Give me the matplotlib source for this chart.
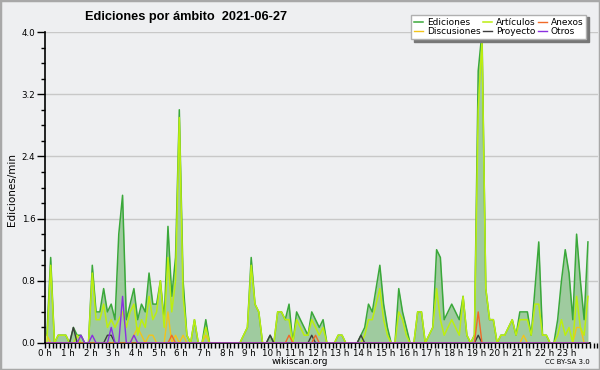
import numpy as np
import matplotlib
matplotlib.use("Agg")
import matplotlib.pyplot as plt
from matplotlib.patches import Rectangle
from matplotlib.ticker import MultipleLocator

# === Data: edits per minute, one value per 10-minute slot (6 per hour) ===
hours = [f"{h} h" for h in range(24)]

ediciones = [
    0.1, 1.1, 0, 0.1, 0.1, 0.1,
    0, 0.2, 0.1, 0.1, 0, 0,
    1.0, 0.4, 0.4, 0.7, 0.4, 0.5,
    0.3, 1.4, 1.9, 0.3, 0.5, 0.7,
    0.3, 0.5, 0.4, 0.9, 0.5, 0.5,
    0.8, 0.3, 1.5, 0.6, 1.1, 3.0,
    0.8, 0.1, 0, 0.3, 0, 0,
    0.3, 0, 0, 0, 0, 0,
    0, 0, 0, 0, 0.1, 0.2,
    1.1, 0.5, 0.4, 0, 0, 0.1,
    0, 0.4, 0.4, 0.3, 0.5, 0,
    0.4, 0.3, 0.2, 0.1, 0.4, 0.3,
    0.2, 0.3, 0, 0, 0, 0.1,
    0.1, 0, 0, 0, 0, 0.1,
    0.2, 0.5, 0.4, 0.7, 1.0, 0.5,
    0.2, 0, 0, 0.7, 0.4, 0.2,
    0, 0, 0.4, 0.4, 0, 0.1,
    0.2, 1.2, 1.1, 0.3, 0.4, 0.5,
    0.4, 0.3, 0.6, 0.1, 0, 0.1,
    3.5, 4.0, 0.7, 0.3, 0.3, 0,
    0.1, 0.1, 0.2, 0.3, 0.1, 0.4,
    0.4, 0.4, 0.1, 0.7, 1.3, 0.1,
    0.1, 0, 0, 0.3, 0.8, 1.2,
    0.9, 0.3, 1.4, 0.8, 0.3, 1.3,
]

articulos = [
    0, 1.0, 0, 0.1, 0.1, 0.1,
    0, 0, 0.1, 0, 0, 0,
    0.9, 0.3, 0.3, 0.5, 0.2, 0.3,
    0.2, 0.3, 0.4, 0.2, 0.4, 0.5,
    0.1, 0.3, 0.2, 0.6, 0.3, 0.4,
    0.8, 0.2, 1.1, 0.4, 0.8, 2.9,
    0.6, 0.1, 0, 0.3, 0, 0,
    0.2, 0, 0, 0, 0, 0,
    0, 0, 0, 0, 0.1, 0.2,
    1.0, 0.5, 0.4, 0, 0, 0,
    0, 0.4, 0.4, 0.3, 0.3, 0,
    0.3, 0.2, 0.1, 0.1, 0.3, 0.2,
    0.1, 0.2, 0, 0, 0, 0.1,
    0.1, 0, 0, 0, 0, 0,
    0.1, 0.3, 0.3, 0.5, 0.7, 0.3,
    0.1, 0, 0, 0.4, 0.3, 0.1,
    0, 0, 0.4, 0.4, 0, 0.1,
    0.2, 0.7, 0.3, 0.1, 0.2, 0.3,
    0.2, 0.1, 0.6, 0.1, 0, 0.1,
    3.0, 3.9, 0.7, 0.3, 0.3, 0,
    0.1, 0.1, 0.2, 0.3, 0.1, 0.3,
    0.3, 0.3, 0.1, 0.5, 0.5, 0.1,
    0.1, 0, 0, 0.1, 0.3, 0.1,
    0.2, 0, 0.6, 0.2, 0.1, 0.6,
]

discusiones = [
    0.1, 0, 0, 0, 0, 0,
    0, 0, 0, 0, 0, 0,
    0, 0, 0, 0, 0, 0,
    0, 0, 0, 0, 0, 0.1,
    0.2, 0.1, 0, 0.1, 0.1, 0,
    0, 0, 0.4, 0, 0.1, 0,
    0.1, 0, 0, 0, 0, 0,
    0.1, 0, 0, 0, 0, 0,
    0, 0, 0, 0, 0, 0,
    0, 0, 0, 0, 0, 0,
    0, 0, 0, 0, 0, 0,
    0, 0, 0, 0, 0, 0,
    0, 0, 0, 0, 0, 0,
    0, 0, 0, 0, 0, 0,
    0, 0, 0, 0, 0, 0,
    0, 0, 0, 0, 0, 0,
    0, 0, 0, 0, 0, 0,
    0, 0, 0, 0, 0, 0,
    0, 0, 0, 0, 0, 0,
    0, 0, 0, 0, 0, 0,
    0, 0, 0, 0, 0, 0,
    0.1, 0, 0, 0, 0, 0,
    0, 0, 0, 0, 0, 0,
    0, 0, 0.2, 0.2, 0, 0,
]

proyecto = [
    0, 0, 0, 0, 0, 0,
    0, 0.2, 0, 0, 0, 0,
    0, 0, 0, 0, 0.1, 0.1,
    0, 0, 0, 0, 0, 0,
    0, 0, 0, 0, 0, 0,
    0, 0, 0, 0, 0, 0,
    0, 0, 0, 0, 0, 0,
    0, 0, 0, 0, 0, 0,
    0, 0, 0, 0, 0, 0,
    0, 0, 0, 0, 0, 0.1,
    0, 0, 0, 0, 0, 0,
    0, 0, 0, 0, 0.1, 0,
    0, 0, 0, 0, 0, 0,
    0, 0, 0, 0, 0, 0.1,
    0, 0, 0, 0, 0, 0,
    0, 0, 0, 0, 0, 0,
    0, 0, 0, 0, 0, 0,
    0, 0, 0, 0, 0, 0,
    0, 0, 0, 0, 0, 0,
    0.1, 0, 0, 0, 0, 0,
    0, 0, 0, 0, 0, 0,
    0, 0, 0, 0, 0, 0,
    0, 0, 0, 0, 0, 0,
    0, 0, 0, 0, 0, 0,
]

anexos = [
    0, 0, 0, 0, 0, 0,
    0, 0, 0, 0, 0, 0,
    0, 0, 0, 0, 0, 0,
    0, 0, 0, 0, 0, 0,
    0, 0, 0, 0, 0, 0,
    0, 0, 0, 0.1, 0, 0,
    0, 0, 0, 0, 0, 0,
    0, 0, 0, 0, 0, 0,
    0, 0, 0, 0, 0, 0,
    0, 0, 0, 0, 0, 0,
    0, 0, 0, 0, 0.1, 0,
    0, 0, 0, 0, 0, 0.1,
    0, 0, 0, 0, 0, 0,
    0, 0, 0, 0, 0, 0,
    0, 0, 0, 0, 0, 0,
    0, 0, 0, 0, 0, 0,
    0, 0, 0, 0, 0, 0,
    0, 0, 0, 0, 0, 0,
    0, 0, 0, 0, 0, 0,
    0.4, 0, 0, 0, 0, 0,
    0, 0, 0, 0, 0, 0,
    0, 0, 0, 0, 0, 0,
    0, 0, 0, 0, 0, 0,
    0, 0, 0, 0, 0, 0,
]

otros = [
    0, 0, 0, 0, 0, 0,
    0, 0, 0, 0.1, 0, 0,
    0.1, 0, 0, 0, 0, 0.2,
    0, 0, 0.6, 0, 0, 0.1,
] + [0] * 120

# === Colours ===
bg = "#eeeff1"
c_edic = "#3aa83a"
c_fill = "#9fcb9f"
c_art = "#bcee10"
c_disc = "#f2c41a"
c_proy = "#3c3c3c"
c_anex = "#f06a28"
c_otros = "#8a30e0"

t = (np.arange(len(ediciones)) + 0.5) / 6.0

fig = plt.figure(figsize=(6, 3.7), dpi=100, facecolor=bg)
ax = fig.add_axes([45 / 600, 1 - 343 / 370, 553 / 600, 311 / 370])
ax.set_facecolor(bg)

# === Series ===
ax.fill_between(t, ediciones, 0, color=c_fill, lw=0, zorder=2)
ax.plot(t, ediciones, color=c_edic, lw=1.1, zorder=3, label="Ediciones")
ax.plot(t, discusiones, color=c_disc, lw=1.0, zorder=4, label="Discusiones")
ax.plot(t, articulos, color=c_art, lw=1.1, zorder=4, label="Artículos")
ax.plot(t, proyecto, color=c_proy, lw=1.0, zorder=5, label="Proyecto")
ax.plot(t, anexos, color=c_anex, lw=1.0, zorder=5, label="Anexos")
ax.plot(t, otros, color=c_otros, lw=1.0, zorder=5, label="Otros")

# === Axes styling ===
ax.set_xlim(0, 24.36)
ax.set_ylim(0, 4.0)
for s in ["top", "right"]:
    ax.spines[s].set_visible(False)
ax.spines["bottom"].set_bounds(0, 24)
ax.spines["left"].set_linewidth(1.2)
ax.spines["bottom"].set_linewidth(1.2)

ax.set_xticks(np.arange(24))
ax.set_xticklabels(hours, fontsize=6.3)
ax.xaxis.set_minor_locator(MultipleLocator(1 / 6))
ax.tick_params(axis="x", which="both", direction="out", length=3.5, width=1, pad=0.5)

ax.set_yticks(np.arange(0, 4.01, 0.8))
ax.set_yticklabels([f"{v:.1f}" for v in np.arange(0, 4.01, 0.8)], fontsize=6.3)
ax.yaxis.set_minor_locator(MultipleLocator(0.2))
ax.tick_params(axis="y", which="major", direction="out", length=6, width=1, pad=1)
ax.tick_params(axis="y", which="minor", direction="out", length=3, width=1)
ax.grid(axis="y", which="major", color="#c8c8c8", lw=1)
ax.set_axisbelow(True)

leg = ax.legend(ncol=3, fontsize=6.5, loc="upper right", bbox_to_anchor=(591 / 600, 1 - 10 / 370),
                bbox_transform=fig.transFigure, frameon=True, fancybox=False,
                shadow={"color": "#777777", "alpha": 1}, handlelength=1.0, handletextpad=0.4,
                columnspacing=0.3, labelspacing=0.0, borderpad=0.35)
leg.get_frame().set_edgecolor("#b0b0b0")
leg.get_frame().set_facecolor("white")
leg.get_frame().set_linewidth(1)

# === Texts ===
fig.text(12 / 600, 1 - 190 / 370, "Ediciones/min", fontsize=7.5, rotation=90,
         ha="center", va="center")
fig.text(85 / 600, 1 - 17 / 370, "Ediciones por ámbito  2021-06-27", fontsize=9.2,
         fontweight="bold", family="Liberation Sans", ha="left", va="center")
fig.text(300 / 600, 1 - 362 / 370, "wikiscan.org", fontsize=6.5, ha="center", va="center")
fig.text(590 / 600, 1 - 362 / 370, "CC BY-SA 3.0", fontsize=5, ha="right", va="center")

fig.patches.append(Rectangle((0, 0), 1, 1, transform=fig.transFigure, fill=False,
                             edgecolor="#a8a8a8", lw=2.5))

fig.savefig("out.png", dpi=100, facecolor=bg)
